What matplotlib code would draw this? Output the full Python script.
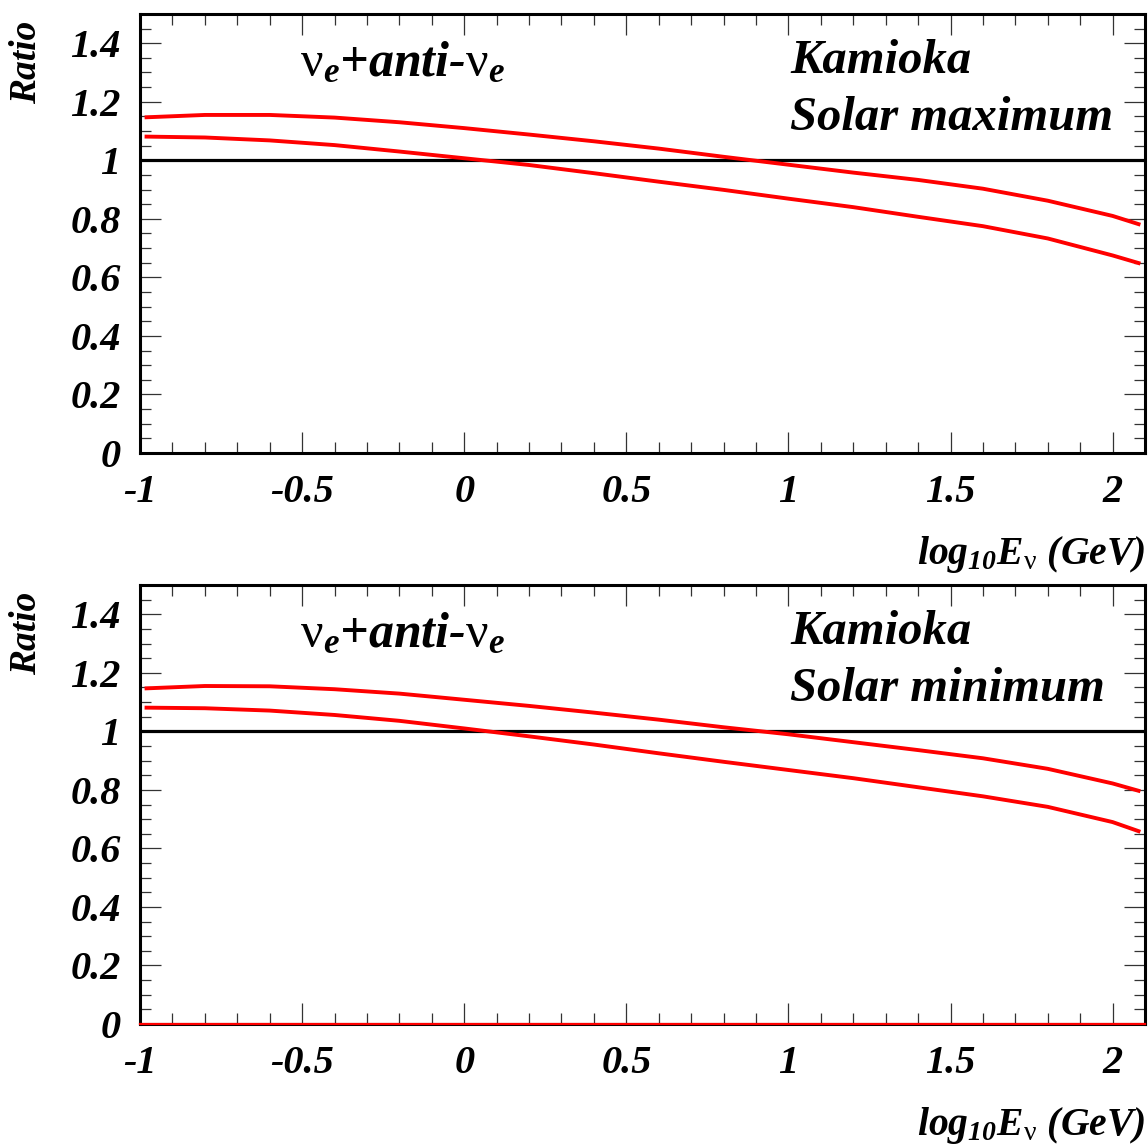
import matplotlib
matplotlib.use("Agg")
import matplotlib.pyplot as plt
from matplotlib.ticker import MultipleLocator, FuncFormatter

plt.rcParams["font.family"] = ["Liberation Serif", "DejaVu Serif"]
plt.rcParams["font.weight"] = "bold"
plt.rcParams["font.style"] = "italic"
plt.rcParams["mathtext.fontset"] = "custom"
plt.rcParams["mathtext.rm"] = "Liberation Serif:style=normal:weight=normal"
plt.rcParams["mathtext.it"] = "Liberation Serif:style=italic:weight=bold"
# bold italic digits for the subscript in the axis title
plt.rcParams["mathtext.bf"] = "Liberation Serif:style=italic:weight=bold"

# log10(E_nu / GeV)
log_e = [-0.98, -0.8, -0.6, -0.4, -0.2, 0.0, 0.2, 0.4, 0.6, 0.8,
         1.0, 1.2, 1.4, 1.6, 1.8, 2.0, 2.08]

# solar maximum
max_upper = [1.147, 1.155, 1.155, 1.146, 1.130, 1.110, 1.088, 1.065, 1.040,
             1.012, 0.985, 0.958, 0.933, 0.903, 0.862, 0.810, 0.782]
max_lower = [1.081, 1.078, 1.068, 1.052, 1.030, 1.007, 0.984, 0.956, 0.927,
             0.899, 0.869, 0.840, 0.807, 0.775, 0.733, 0.675, 0.649]

# solar minimum
min_upper = [1.147, 1.155, 1.154, 1.144, 1.129, 1.108, 1.087, 1.064, 1.040,
             1.014, 0.990, 0.963, 0.936, 0.908, 0.872, 0.822, 0.797]
min_lower = [1.081, 1.079, 1.071, 1.056, 1.036, 1.010, 0.983, 0.955, 0.925,
             0.896, 0.868, 0.840, 0.809, 0.778, 0.742, 0.690, 0.659]

panels = [
    ("Solar maximum", max_upper, max_lower, [0.122, 0.604, 0.8754, 0.3838], 0.507),
    ("Solar minimum", min_upper, min_lower, [0.122, 0.1049, 0.8754, 0.3837], 0.0079),
]


def fmt(v, pos):
    return "%g" % round(v, 2)


fig = plt.figure(figsize=(11.48, 11.44), dpi=100)

for i, (title, upper, lower, rect, xlab_y) in enumerate(panels):
    ax = fig.add_axes(rect)
    ax.set_xlim(-1, 2.1)
    ax.set_ylim(0, 1.5)

    ax.axhline(1.0, color="black", lw=2.3, zorder=3)
    ax.plot(log_e, upper, color="#ff0000", lw=2.8, zorder=4)
    ax.plot(log_e, lower, color="#ff0000", lw=2.8, zorder=4)
    if i == 1:
        ax.axhline(0.0, color="#ff0000", lw=1.6, zorder=5, clip_on=False)

    for sp in ax.spines.values():
        sp.set_linewidth(2.2)

    ax.xaxis.set_major_locator(MultipleLocator(0.5))
    ax.xaxis.set_minor_locator(MultipleLocator(0.1))
    ax.yaxis.set_major_locator(MultipleLocator(0.2))
    ax.yaxis.set_minor_locator(MultipleLocator(0.05))
    ax.xaxis.set_major_formatter(FuncFormatter(fmt))
    ax.yaxis.set_major_formatter(FuncFormatter(fmt))
    ax.tick_params(which="both", direction="in", top=True, right=True,
                   width=0.9, color="#333333", labelsize=29)
    ax.tick_params(which="major", length=15)
    ax.tick_params(which="minor", length=8)
    ax.tick_params(axis="x", which="major", pad=15)
    ax.tick_params(axis="y", which="major", pad=14)

    ax.text(-0.1125, 0.985, "Ratio", transform=ax.transAxes, rotation=90,
            ha="center", va="top", fontsize=27)
    ax.text(0.159, 0.858, r"$\mathrm{\nu}_{e}$+anti-$\mathrm{\nu}_{e}$",
            transform=ax.transAxes, ha="left", va="baseline", fontsize=36)
    ax.text(0.647, 0.866, "Kamioka", transform=ax.transAxes, ha="left",
            va="baseline", fontsize=35)
    ax.text(0.647, 0.736, title, transform=ax.transAxes, ha="left",
            va="baseline", fontsize=35)

    fig.text(0.9974, xlab_y, r"log$_{\mathbf{10}}$E$_{\mathrm{\nu}}$ (GeV)",
             ha="right", va="baseline", fontsize=28.5)

fig.savefig("out.png", dpi=100)
